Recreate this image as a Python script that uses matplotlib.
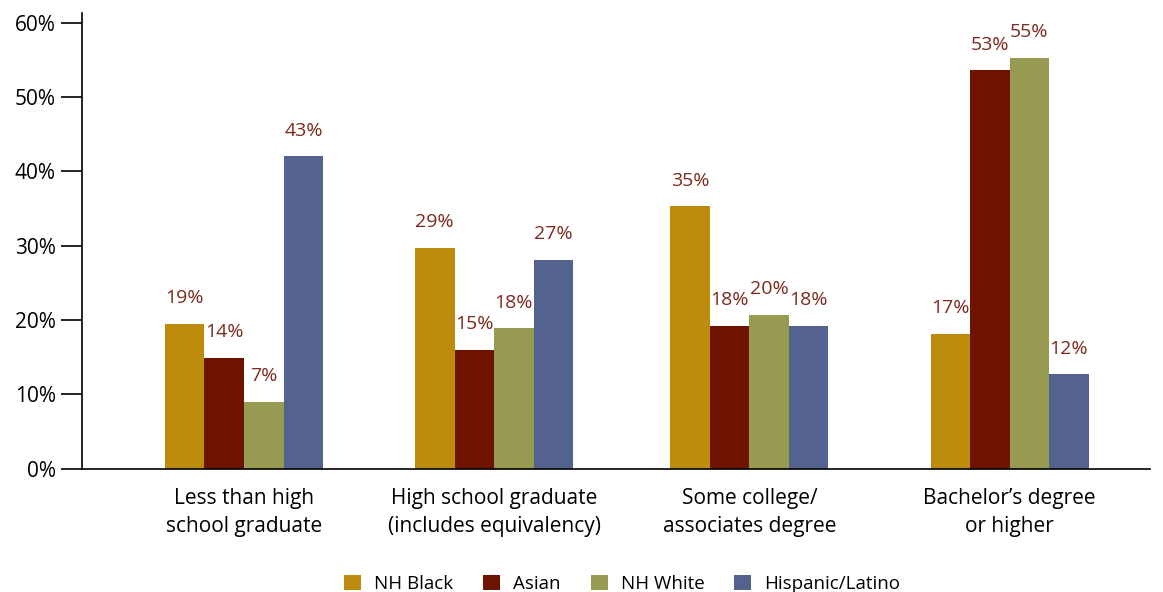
import numpy as np
import matplotlib.pyplot as plt

plt.rcParams['font.family'] = ['Open Sans', 'DejaVu Sans']

categories = ["Less than high\nschool graduate",
              "High school graduate\n(includes equivalency)",
              "Some college/\nassociates degree",
              "Bachelor\u2019s degree\nor higher"]
series = ["NH Black", "Asian", "NH White", "Hispanic/Latino"]
colors = ["#BE8C0C", "#6E1300", "#969B51", "#53628E"]

# bar heights as drawn, and the printed labels
nh_black = [19.5, 29.7, 35.3, 18.1]
asian = [14.9, 16.0, 19.2, 53.6]
nh_white = [9.0, 18.9, 20.7, 55.3]
hispanic = [42.0, 28.1, 19.2, 12.7]
lab_black = ["19%", "29%", "35%", "17%"]
lab_asian = ["14%", "15%", "18%", "53%"]
lab_white = ["7%", "18%", "20%", "55%"]
lab_hisp = ["43%", "27%", "18%", "12%"]

values = [nh_black, asian, nh_white, hispanic]
labels = [lab_black, lab_asian, lab_white, lab_hisp]

fig = plt.figure(figsize=(11.63, 5.92), dpi=100)
ax = fig.add_axes([82/1163, 1 - 468.7/592, (1150-82)/1163, (468.7-13)/592])

x = np.array([0, 0.98, 1.98, 3.0])
w = 0.155
for i in range(4):
    pos = x + (i - 1.5) * w
    ax.bar(pos, values[i], width=w, color=colors[i], label=series[i])
    for px, v, t in zip(pos, values[i], labels[i]):
        ax.annotate(t, (px, v), xytext=(0, 12), textcoords='offset points',
                    ha='center', va='bottom', fontsize=14, color='#7B2A1B')

ax.set_xlim(-0.635, 3.55)
ax.set_ylim(0, 61.3)
ax.set_yticks(range(0, 61, 10))
ax.set_yticklabels(["%d%%" % v for v in range(0, 61, 10)], fontsize=15)
ax.tick_params(axis='y', length=15, width=1.2, direction='out', pad=4)
ax.set_xticks(x)
ax.set_xticklabels(categories, fontsize=15, linespacing=1.45)
ax.tick_params(axis='x', length=0, pad=14)
ax.spines['top'].set_visible(False)
ax.spines['right'].set_visible(False)
ax.spines['left'].set_linewidth(1.2)
ax.spines['bottom'].set_linewidth(1.2)

fig.legend(loc='lower center', bbox_to_anchor=(0.535, -0.03), ncol=4, frameon=False,
           fontsize=13.5, handlelength=0.9, handleheight=0.9, columnspacing=1.6,
           handletextpad=0.7)

fig.savefig("out.png", dpi=100)
